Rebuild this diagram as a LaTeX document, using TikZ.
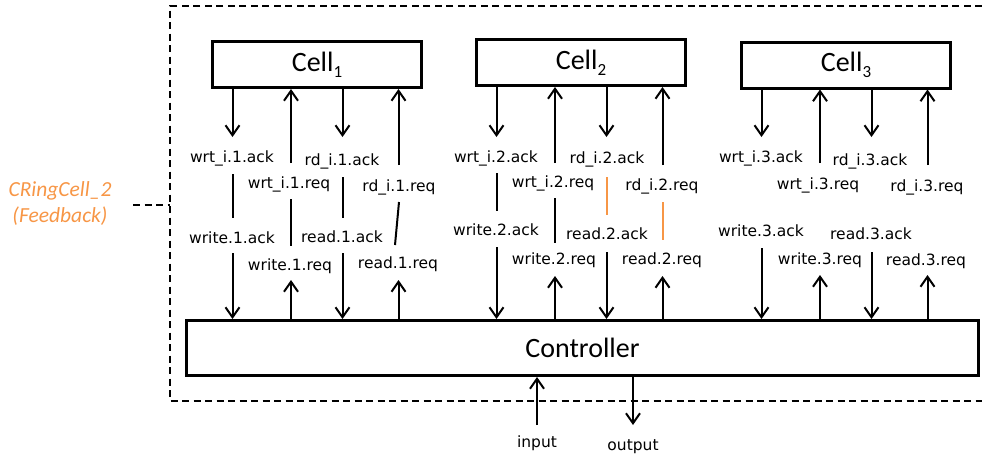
\documentclass[tikz,border=0pt]{standalone}
\usepackage{fontspec}
\usetikzlibrary{arrows.meta}
\newfontfamily\labfont{DejaVu Sans}
\newfontfamily\boxfont{Carlito}
\definecolor{accent}{HTML}{F79646}
% subscript index of a cell name
\newcommand\cellidx[1]{\raisebox{-0.22em}{\fontsize{17}{17}\selectfont #1}}

\begin{document}
\begin{tikzpicture}[x=1pt,y=-1pt,
  sig/.style={line width=2pt},
  arr/.style={sig,-{Straight Barb[length=10pt,width=14pt]}},
  blockbox/.style={draw,line width=3pt,minimum width=209pt,minimum height=46pt,
    inner sep=0pt,font=\boxfont\fontsize{28}{32}\selectfont},
  lbl/.style={anchor=base,inner sep=0pt,font=\labfont\fontsize{15.5}{18}\selectfont},
  dashline/.style={line width=1.5pt,dash pattern=on 7pt off 4.5pt}
]
\useasboundingbox (0,0) rectangle (982,458);

% enclosing component, open towards the right
\coordinate (frameNE) at (982,6);
\coordinate (frameSW) at (170,401);
\draw[dashline] (frameNE) -| (frameSW) -- (frameSW -| frameNE);

% cells and controller
\node[blockbox] (cell1) at (317,64.5) {Cell\cellidx{1}};
\node[blockbox] (cell2) at (581,62.5) {Cell\cellidx{2}};
\node[blockbox] (cell3) at (846,65) {Cell\cellidx{3}};
\node[blockbox,minimum width=792pt,minimum height=55pt] (ctrl) at (582.5,348) {Controller};

% component tag
\node[text=accent,align=center,inner sep=0pt,
  font=\boxfont\itshape\fontsize{21.5}{26}\selectfont] (tag) at (60,204) {CRingCell\_2\\(Feedback)};
\coordinate (tagend) at (133,205);
\draw[dashline] (tagend) -- (tagend -| frameSW);

% handshake wires between the cells and their labels
\foreach \c/\L in {1/211,2/475,3/740}{
  \draw[arr] ({\L+21.5},0 |- cell\c.south) -- ({\L+21.5},137);
  \draw[arr] ({\L+80},163) -- ({\L+80},0 |- cell\c.south);
  \draw[arr] ({\L+131.5},0 |- cell\c.south) -- ({\L+131.5},137);
  \draw[arr] ({\L+187.5},165) -- ({\L+187.5},0 |- cell\c.south);
}

% wires between the labels and the controller
\foreach \L/\ya/\yc/\yt in {211/253/253/280, 475/247/252/276, 740/248/252/275}{
  \draw[arr] ({\L+21.5},\ya) -- ({\L+21.5},0 |- ctrl.north);
  \draw[arr] ({\L+80},0 |- ctrl.north) -- ({\L+80},\yt);
  \draw[arr] ({\L+131.5},\yc) -- ({\L+131.5},0 |- ctrl.north);
  \draw[arr] ({\L+187.5},0 |- ctrl.north) -- ({\L+187.5},\yt);
}

% links between internal and external signal names
\draw[sig] (232.5,174) -- (232.5,218);
\draw[sig] (291,199) -- (291,246);
\draw[sig] (342.5,177) -- (342.5,218);
\draw[sig] (399,202) -- (395,245);
\draw[sig] (496.5,173) -- (496.5,211);
\draw[sig] (555,198) -- (555,243);
\draw[sig,draw=accent] (606.5,177) -- (606.5,215);
\draw[sig,draw=accent] (662.5,202) -- (662.5,240);

% signal names, cell 1
\node[lbl] (w1a) at (232,162) {wrt\_i.1.ack};
\node[lbl] (r1a) at (342,165) {rd\_i.1.ack};
\node[lbl] (w1r) at (289,188) {wrt\_i.1.req};
\node[lbl] (r1r) at (399,191) {rd\_i.1.req};
\node[lbl] (W1a) at (232,243) {write.1.ack};
\node[lbl] (R1a) at (342,242) {read.1.ack};
\node[lbl] (W1r) at (290,270) {write.1.req};
\node[lbl] (R1r) at (398,268) {read.1.req};
% signal names, cell 2
\node[lbl] (w2a) at (496,162) {wrt\_i.2.ack};
\node[lbl] (r2a) at (607,163) {rd\_i.2.ack};
\node[lbl] (w2r) at (553,187) {wrt\_i.2.req};
\node[lbl] (r2r) at (662,190) {rd\_i.2.req};
\node[lbl] (W2a) at (496,235) {write.2.ack};
\node[lbl] (R2a) at (607,239) {read.2.ack};
\node[lbl] (W2r) at (554,264) {write.2.req};
\node[lbl] (R2r) at (662,264) {read.2.req};
% signal names, cell 3
\node[lbl] (w3a) at (761,162) {wrt\_i.3.ack};
\node[lbl] (r3a) at (870,165) {rd\_i.3.ack};
\node[lbl] (w3r) at (818,189) {wrt\_i.3.req};
\node[lbl] (r3r) at (927,191) {rd\_i.3.req};
\node[lbl] (W3a) at (761,236) {write.3.ack};
\node[lbl] (R3a) at (871,239) {read.3.ack};
\node[lbl] (W3r) at (820,264) {write.3.req};
\node[lbl] (R3r) at (926,265) {read.3.req};

% controller ports
\coordinate (insrc) at (537,425);
\coordinate (outdst) at (633,425);
\draw[arr] (insrc) -- (insrc |- ctrl.south);
\draw[arr] (outdst |- ctrl.south) -- (outdst);
\node[lbl] (inlbl) at (537,447) {input};
\node[lbl] (outlbl) at (633,450) {output};
\end{tikzpicture}
\end{document}
